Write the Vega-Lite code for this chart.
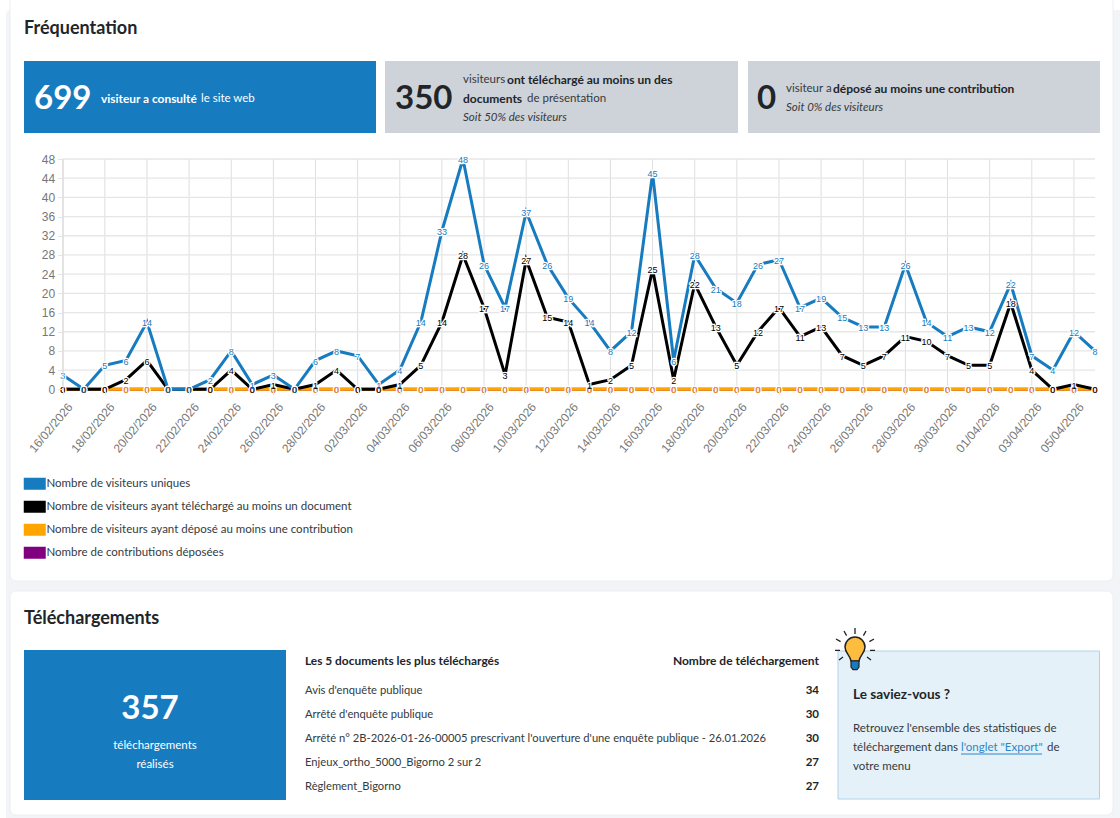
{"$schema":"https://vega.github.io/schema/vega-lite/v6.json","width":1120,"height":818,"padding":0,"autosize":{"type":"none"},"background":"#ffffff","config":{"view":{"stroke":null},"text":{"font":"Lato","dy":1}},
"datasets":{"frequentation":[
{"date":"16/02/2026","uniques":3,"telecharges":0,"deposes":0,"contributions":0},{"date":"17/02/2026","uniques":0,"telecharges":0,"deposes":0,"contributions":0},{"date":"18/02/2026","uniques":5,"telecharges":0,"deposes":0,"contributions":0},{"date":"19/02/2026","uniques":6,"telecharges":2,"deposes":0,"contributions":0},{"date":"20/02/2026","uniques":14,"telecharges":6,"deposes":0,"contributions":0},{"date":"21/02/2026","uniques":0,"telecharges":0,"deposes":0,"contributions":0},{"date":"22/02/2026","uniques":0,"telecharges":0,"deposes":0,"contributions":0},{"date":"23/02/2026","uniques":2,"telecharges":0,"deposes":0,"contributions":0},{"date":"24/02/2026","uniques":8,"telecharges":4,"deposes":0,"contributions":0},{"date":"25/02/2026","uniques":1,"telecharges":0,"deposes":0,"contributions":0},{"date":"26/02/2026","uniques":3,"telecharges":1,"deposes":0,"contributions":0},{"date":"27/02/2026","uniques":0,"telecharges":0,"deposes":0,"contributions":0},{"date":"28/02/2026","uniques":6,"telecharges":1,"deposes":0,"contributions":0},{"date":"01/03/2026","uniques":8,"telecharges":4,"deposes":0,"contributions":0},{"date":"02/03/2026","uniques":7,"telecharges":0,"deposes":0,"contributions":0},{"date":"03/03/2026","uniques":1,"telecharges":0,"deposes":0,"contributions":0},{"date":"04/03/2026","uniques":4,"telecharges":1,"deposes":0,"contributions":0},{"date":"05/03/2026","uniques":14,"telecharges":5,"deposes":0,"contributions":0},{"date":"06/03/2026","uniques":33,"telecharges":14,"deposes":0,"contributions":0},{"date":"07/03/2026","uniques":48,"telecharges":28,"deposes":0,"contributions":0},{"date":"08/03/2026","uniques":26,"telecharges":17,"deposes":0,"contributions":0},{"date":"09/03/2026","uniques":17,"telecharges":3,"deposes":0,"contributions":0},{"date":"10/03/2026","uniques":37,"telecharges":27,"deposes":0,"contributions":0},{"date":"11/03/2026","uniques":26,"telecharges":15,"deposes":0,"contributions":0},{"date":"12/03/2026","uniques":19,"telecharges":14,"deposes":0,"contributions":0},{"date":"13/03/2026","uniques":14,"telecharges":1,"deposes":0,"contributions":0},{"date":"14/03/2026","uniques":8,"telecharges":2,"deposes":0,"contributions":0},{"date":"15/03/2026","uniques":12,"telecharges":5,"deposes":0,"contributions":0},{"date":"16/03/2026","uniques":45,"telecharges":25,"deposes":0,"contributions":0},{"date":"17/03/2026","uniques":6,"telecharges":2,"deposes":0,"contributions":0},{"date":"18/03/2026","uniques":28,"telecharges":22,"deposes":0,"contributions":0},{"date":"19/03/2026","uniques":21,"telecharges":13,"deposes":0,"contributions":0},{"date":"20/03/2026","uniques":18,"telecharges":5,"deposes":0,"contributions":0},{"date":"21/03/2026","uniques":26,"telecharges":12,"deposes":0,"contributions":0},{"date":"22/03/2026","uniques":27,"telecharges":17,"deposes":0,"contributions":0},{"date":"23/03/2026","uniques":17,"telecharges":11,"deposes":0,"contributions":0},{"date":"24/03/2026","uniques":19,"telecharges":13,"deposes":0,"contributions":0},{"date":"25/03/2026","uniques":15,"telecharges":7,"deposes":0,"contributions":0},{"date":"26/03/2026","uniques":13,"telecharges":5,"deposes":0,"contributions":0},{"date":"27/03/2026","uniques":13,"telecharges":7,"deposes":0,"contributions":0},{"date":"28/03/2026","uniques":26,"telecharges":11,"deposes":0,"contributions":0},{"date":"29/03/2026","uniques":14,"telecharges":10,"deposes":0,"contributions":0},{"date":"30/03/2026","uniques":11,"telecharges":7,"deposes":0,"contributions":0},{"date":"31/03/2026","uniques":13,"telecharges":5,"deposes":0,"contributions":0},{"date":"01/04/2026","uniques":12,"telecharges":5,"deposes":0,"contributions":0},{"date":"02/04/2026","uniques":22,"telecharges":18,"deposes":0,"contributions":0},{"date":"03/04/2026","uniques":7,"telecharges":4,"deposes":0,"contributions":0},{"date":"04/04/2026","uniques":4,"telecharges":0,"deposes":0,"contributions":0},{"date":"05/04/2026","uniques":12,"telecharges":1,"deposes":0,"contributions":0},{"date":"06/04/2026","uniques":8,"telecharges":0,"deposes":0,"contributions":0}],
"graduationsDates":[{"date":"16/02/2026"},{"date":"18/02/2026"},{"date":"20/02/2026"},{"date":"22/02/2026"},{"date":"24/02/2026"},{"date":"26/02/2026"},{"date":"28/02/2026"},{"date":"02/03/2026"},{"date":"04/03/2026"},{"date":"06/03/2026"},{"date":"08/03/2026"},{"date":"10/03/2026"},{"date":"12/03/2026"},{"date":"14/03/2026"},{"date":"16/03/2026"},{"date":"18/03/2026"},{"date":"20/03/2026"},{"date":"22/03/2026"},{"date":"24/03/2026"},{"date":"26/03/2026"},{"date":"28/03/2026"},{"date":"30/03/2026"},{"date":"01/04/2026"},{"date":"03/04/2026"},{"date":"05/04/2026"}],
"graduationsValeurs":[{"valeur":0},{"valeur":4},{"valeur":8},{"valeur":12},{"valeur":16},{"valeur":20},{"valeur":24},{"valeur":28},{"valeur":32},{"valeur":36},{"valeur":40},{"valeur":44},{"valeur":48}],
"documents":[{"document":"Avis d'enquête publique","telechargements":34},{"document":"Arrêté d'enquête publique","telechargements":30},{"document":"Arrêté n° 2B-2026-01-26-00005 prescrivant l'ouverture d'une enquête publique - 26.01.2026","telechargements":30},{"document":"Enjeux_ortho_5000_Bigorno 2 sur 2","telechargements":27},{"document":"Règlement_Bigorno","telechargements":27}]},
"resolve":{"scale":{"x":"independent","y":"independent"}},
"layer":[
{"layer":[
{"data":{"values":[{"zone":"page"}]},"mark":{"type":"rect","fill":"#f3f4f7","cornerRadius":4},"encoding":{"x":{"datum":6,"axis":null,"scale":{"domain":[0,1120],"range":[0,1120],"nice":false,"zero":false}},"x2":{"datum":1124},"y":{"datum":10,"axis":null,"scale":{"domain":[0,818],"range":[0,818],"nice":false,"zero":false}},"y2":{"datum":822}}},
{"data":{"values":[{"zone":"carte"}]},"mark":{"type":"rect","fill":"#ffffff","cornerRadius":6,"stroke":"#eceef1"},"encoding":{"x":{"datum":10,"axis":null},"x2":{"datum":1113},"y":{"datum":-8,"axis":null},"y2":{"datum":581}}},
{"data":{"values":[{"zone":"carte"}]},"mark":{"type":"rect","fill":"#ffffff","cornerRadius":6,"stroke":"#eceef1"},"encoding":{"x":{"datum":10,"axis":null},"x2":{"datum":1113},"y":{"datum":591,"axis":null},"y2":{"datum":815}}},
{"data":{"values":[{"zone":"kpi"}]},"mark":{"type":"rect","fill":"#177bbf"},"encoding":{"x":{"datum":24,"axis":null},"x2":{"datum":376},"y":{"datum":61,"axis":null},"y2":{"datum":133}}},
{"data":{"values":[{"zone":"kpi"}]},"mark":{"type":"rect","fill":"#ced2d9"},"encoding":{"x":{"datum":385,"axis":null},"x2":{"datum":738},"y":{"datum":61,"axis":null},"y2":{"datum":133}}},
{"data":{"values":[{"zone":"kpi"}]},"mark":{"type":"rect","fill":"#ced2d9"},"encoding":{"x":{"datum":748,"axis":null},"x2":{"datum":1100},"y":{"datum":61,"axis":null},"y2":{"datum":133}}},
{"data":{"values":[{"zone":"kpi"}]},"mark":{"type":"rect","fill":"#177bbf"},"encoding":{"x":{"datum":24,"axis":null},"x2":{"datum":286},"y":{"datum":650,"axis":null},"y2":{"datum":800}}},
{"data":{"values":[{"zone":"astuce"}]},"mark":{"type":"rect","fill":"#e5f1f9","stroke":"#aed2ea"},"encoding":{"x":{"datum":838,"axis":null},"x2":{"datum":1099.5},"y":{"datum":651,"axis":null},"y2":{"datum":799}}},
{"data":{"values":[{"t":"Fréquentation"}]},"mark":{"type":"text","fontWeight":"bold","fontSize":18,"align":"left","color":"#212529"},"encoding":{"x":{"datum":24,"axis":null},"y":{"datum":28,"axis":null},"text":{"field":"t"}}},
{"data":{"values":[{"t":"Téléchargements"}]},"mark":{"type":"text","fontWeight":"bold","fontSize":18,"align":"left","color":"#212529"},"encoding":{"x":{"datum":24,"axis":null},"y":{"datum":618,"axis":null},"text":{"field":"t"}}},
{"data":{"values":[{"t":"699"}]},"mark":{"type":"text","fontWeight":"bold","fontSize":33,"align":"left","color":"#ffffff"},"encoding":{"x":{"datum":34,"axis":null},"y":{"datum":98,"axis":null},"text":{"field":"t"}}},
{"data":{"values":[{"t":"visiteur a consulté"}]},"mark":{"type":"text","fontWeight":"bold","fontSize":11.9,"align":"left","color":"#ffffff"},"encoding":{"x":{"datum":101,"axis":null},"y":{"datum":98,"axis":null},"text":{"field":"t"}}},
{"data":{"values":[{"t":"le site web"}]},"mark":{"type":"text","fontSize":11.5,"align":"left","color":"#ffffff"},"encoding":{"x":{"datum":201,"axis":null},"y":{"datum":98,"axis":null},"text":{"field":"t"}}},
{"data":{"values":[{"t":"350"}]},"mark":{"type":"text","fontWeight":"bold","fontSize":33,"align":"left","color":"#212529"},"encoding":{"x":{"datum":395,"axis":null},"y":{"datum":98,"axis":null},"text":{"field":"t"}}},
{"data":{"values":[{"t":"visiteurs"}]},"mark":{"type":"text","fontSize":11.5,"align":"left","color":"#343a40"},"encoding":{"x":{"datum":463,"axis":null},"y":{"datum":79,"axis":null},"text":{"field":"t"}}},
{"data":{"values":[{"t":"ont téléchargé au moins un des"}]},"mark":{"type":"text","fontWeight":"bold","fontSize":12,"align":"left","color":"#212529"},"encoding":{"x":{"datum":507,"axis":null},"y":{"datum":79,"axis":null},"text":{"field":"t"}}},
{"data":{"values":[{"t":"documents"}]},"mark":{"type":"text","fontWeight":"bold","fontSize":12,"align":"left","color":"#212529"},"encoding":{"x":{"datum":463,"axis":null},"y":{"datum":98,"axis":null},"text":{"field":"t"}}},
{"data":{"values":[{"t":"de présentation"}]},"mark":{"type":"text","fontSize":11.5,"align":"left","color":"#343a40"},"encoding":{"x":{"datum":527,"axis":null},"y":{"datum":98,"axis":null},"text":{"field":"t"}}},
{"data":{"values":[{"t":"Soit 50% des visiteurs"}]},"mark":{"type":"text","fontStyle":"italic","fontSize":11.5,"align":"left","color":"#343a40"},"encoding":{"x":{"datum":463,"axis":null},"y":{"datum":117,"axis":null},"text":{"field":"t"}}},
{"data":{"values":[{"t":"0"}]},"mark":{"type":"text","fontWeight":"bold","fontSize":33,"align":"left","color":"#212529"},"encoding":{"x":{"datum":757,"axis":null},"y":{"datum":98,"axis":null},"text":{"field":"t"}}},
{"data":{"values":[{"t":"visiteur a"}]},"mark":{"type":"text","fontSize":11.5,"align":"left","color":"#343a40"},"encoding":{"x":{"datum":786,"axis":null},"y":{"datum":88,"axis":null},"text":{"field":"t"}}},
{"data":{"values":[{"t":"déposé au moins une contribution"}]},"mark":{"type":"text","fontWeight":"bold","fontSize":12,"align":"left","color":"#212529"},"encoding":{"x":{"datum":833,"axis":null},"y":{"datum":88,"axis":null},"text":{"field":"t"}}},
{"data":{"values":[{"t":"Soit 0% des visiteurs"}]},"mark":{"type":"text","fontStyle":"italic","fontSize":11.5,"align":"left","color":"#343a40"},"encoding":{"x":{"datum":786,"axis":null},"y":{"datum":107,"axis":null},"text":{"field":"t"}}},
{"data":{"values":[{"t":"357"}]},"mark":{"type":"text","fontWeight":"bold","fontSize":33,"color":"#ffffff"},"encoding":{"x":{"datum":150,"axis":null},"y":{"datum":708,"axis":null},"text":{"field":"t"}}},
{"data":{"values":[{"t":"téléchargements"}]},"mark":{"type":"text","fontSize":11.5,"color":"#ffffff"},"encoding":{"x":{"datum":155,"axis":null},"y":{"datum":745,"axis":null},"text":{"field":"t"}}},
{"data":{"values":[{"t":"réalisés"}]},"mark":{"type":"text","fontSize":11.5,"color":"#ffffff"},"encoding":{"x":{"datum":155,"axis":null},"y":{"datum":764,"axis":null},"text":{"field":"t"}}},
{"data":{"values":[{"t":"Les 5 documents les plus téléchargés"}]},"mark":{"type":"text","fontWeight":"bold","fontSize":11.9,"align":"left","color":"#212529"},"encoding":{"x":{"datum":305,"axis":null},"y":{"datum":660,"axis":null},"text":{"field":"t"}}},
{"data":{"values":[{"t":"Nombre de téléchargement"}]},"mark":{"type":"text","fontWeight":"bold","fontSize":12,"align":"right","color":"#212529"},"encoding":{"x":{"datum":819,"axis":null},"y":{"datum":660,"axis":null},"text":{"field":"t"}}},
{"data":{"values":[{"t":"Le saviez-vous ?"}]},"mark":{"type":"text","fontWeight":"bold","fontSize":13.6,"align":"left","color":"#212529"},"encoding":{"x":{"datum":853,"axis":null},"y":{"datum":694,"axis":null},"text":{"field":"t"}}},
{"data":{"values":[{"t":"Retrouvez l'ensemble des statistiques de"}]},"mark":{"type":"text","fontSize":11.5,"align":"left","color":"#343a40"},"encoding":{"x":{"datum":853,"axis":null},"y":{"datum":728,"axis":null},"text":{"field":"t"}}},
{"data":{"values":[{"t":"téléchargement dans"}]},"mark":{"type":"text","fontSize":11.5,"align":"left","color":"#343a40"},"encoding":{"x":{"datum":853,"axis":null},"y":{"datum":747,"axis":null},"text":{"field":"t"}}},
{"data":{"values":[{"t":"l'onglet \"Export\""}]},"mark":{"type":"text","fontSize":11.5,"align":"left","color":"#2b87c8"},"encoding":{"x":{"datum":961,"axis":null},"y":{"datum":747,"axis":null},"text":{"field":"t"}}},
{"data":{"values":[{"zone":"lien"}]},"mark":{"type":"rule","color":"#2b87c8","strokeWidth":1},"encoding":{"x":{"datum":961,"axis":null},"x2":{"datum":1042},"y":{"datum":754,"axis":null}}},
{"data":{"values":[{"t":"de"}]},"mark":{"type":"text","fontSize":11.5,"align":"left","color":"#343a40"},"encoding":{"x":{"datum":1047,"axis":null},"y":{"datum":747,"axis":null},"text":{"field":"t"}}},
{"data":{"values":[{"t":"votre menu"}]},"mark":{"type":"text","fontSize":11.5,"align":"left","color":"#343a40"},"encoding":{"x":{"datum":853,"axis":null},"y":{"datum":766,"axis":null},"text":{"field":"t"}}},
{"data":{"values":[{"icone":"rayons"}]},"mark":{"type":"point","shape":"M0,-1.1V-0.8M-0.55,-0.95L-0.42,-0.72M0.55,-0.95L0.42,-0.72M-0.95,-0.55L-0.72,-0.42M0.95,-0.55L0.72,-0.42M-1,0.02H-0.75M1,0.02H0.75M-0.8,0.5L-0.6,0.35M0.8,0.5L0.6,0.35","size":1600,"stroke":"#222222","strokeWidth":1.3,"opacity":1,"filled":false},"encoding":{"x":{"datum":855,"axis":null},"y":{"datum":650,"axis":null}}},
{"data":{"values":[{"icone":"ampoule"}]},"mark":{"type":"point","shape":"M-0.2,0.55C-0.25,0.25 -0.5,0.15 -0.5,-0.15A0.5,0.5 0 1 1 0.5,-0.15C0.5,0.15 0.25,0.25 0.2,0.55Z","size":1600,"filled":true,"fill":"#fdbe3f","stroke":"#222222","strokeWidth":1.5,"opacity":1},"encoding":{"x":{"datum":855,"axis":null},"y":{"datum":650,"axis":null}}},
{"data":{"values":[{"icone":"culot"}]},"mark":{"type":"point","shape":"M-0.2,0.55H0.2V0.85L0.1,0.98H-0.1L-0.2,0.85Z","size":1600,"filled":true,"fill":"#177bbf","stroke":"#222222","strokeWidth":1.2,"opacity":1},"encoding":{"x":{"datum":855,"axis":null},"y":{"datum":650,"axis":null}}}
]},
{"data":{"name":"documents"},"layer":[
{"mark":{"type":"text","fontSize":11.2,"align":"left","color":"#343a40"},"encoding":{"x":{"datum":305,"axis":null,"scale":{"domain":[0,1120],"range":[0,1120],"nice":false,"zero":false}},"y":{"field":"document","type":"nominal","axis":null,"sort":null,"scale":{"type":"point","range":[690,786],"padding":0}},"text":{"field":"document"}}},
{"mark":{"type":"text","fontWeight":"bold","fontSize":11.5,"align":"right","color":"#212529"},"encoding":{"x":{"datum":819,"axis":null},"y":{"field":"document","type":"nominal","axis":null,"sort":null},"text":{"field":"telechargements","type":"quantitative"}}}
]},
{"layer":[
{"data":{"name":"graduationsDates"},"mark":{"type":"rule","color":"#dedede","strokeWidth":1},"encoding":{"x":{"field":"date","type":"nominal"},"y":{"datum":0},"y2":{"datum":48}}},
{"data":{"name":"graduationsValeurs"},"mark":{"type":"rule","color":"#e6e6e6","strokeWidth":1.3},"encoding":{"y":{"field":"valeur","type":"quantitative"},"x":{"datum":"16/02/2026","type":"nominal"},"x2":{"datum":"06/04/2026"}}},
{"data":{"name":"frequentation"},"transform":[{"fold":["contributions","deposes","telecharges","uniques"],"as":["serie","nombre"]}],"layer":[
{"mark":{"type":"point","filled":true,"size":0},"encoding":{"x":{"field":"date","type":"nominal"},"y":{"field":"nombre","type":"quantitative"},"color":{"field":"serie","type":"nominal",
"legend":{"orient":"none","legendX":29,"legendY":478,"title":null,"columns":1,"symbolType":"M-11,-6H11V6H-11Z","symbolSize":4,"symbolStrokeWidth":0,"symbolOpacity":1,"labelFont":"Lato","labelFontSize":11.5,"labelColor":"#343a40","rowPadding":10,"labelOffset":6,"labelLimit":500,"labelExpr":"{'uniques':'Nombre de visiteurs uniques','telecharges':'Nombre de visiteurs ayant téléchargé au moins un document','deposes':'Nombre de visiteurs ayant déposé au moins une contribution','contributions':'Nombre de contributions déposées'}[datum.label]"}}}},
{"mark":{"type":"line","strokeWidth":3,"strokeJoin":"miter","interpolate":"linear"},"encoding":{
"x":{"field":"date","type":"nominal","title":null,"sort":null,"scale":{"type":"point","padding":0,"range":[62.7,1095],"domain":["16/02/2026","17/02/2026","18/02/2026","19/02/2026","20/02/2026","21/02/2026","22/02/2026","23/02/2026","24/02/2026","25/02/2026","26/02/2026","27/02/2026","28/02/2026","01/03/2026","02/03/2026","03/03/2026","04/03/2026","05/03/2026","06/03/2026","07/03/2026","08/03/2026","09/03/2026","10/03/2026","11/03/2026","12/03/2026","13/03/2026","14/03/2026","15/03/2026","16/03/2026","17/03/2026","18/03/2026","19/03/2026","20/03/2026","21/03/2026","22/03/2026","23/03/2026","24/03/2026","25/03/2026","26/03/2026","27/03/2026","28/03/2026","29/03/2026","30/03/2026","31/03/2026","01/04/2026","02/04/2026","03/04/2026","04/04/2026","05/04/2026","06/04/2026"]},
"axis":{"zindex":1,"offset":-428.7,"orient":"bottom","values":["16/02/2026","18/02/2026","20/02/2026","22/02/2026","24/02/2026","26/02/2026","28/02/2026","02/03/2026","04/03/2026","06/03/2026","08/03/2026","10/03/2026","12/03/2026","14/03/2026","16/03/2026","18/03/2026","20/03/2026","22/03/2026","24/03/2026","26/03/2026","28/03/2026","30/03/2026","01/04/2026","03/04/2026","05/04/2026"],"labelAngle":-50,"labelAlign":"right","labelBaseline":"middle","labelFont":"Liberation Sans","labelFontSize":12,"labelColor":"#777777","labelPadding":10,"labelOffset":7,"labelOverlap":false,"labelFlush":false,"domain":false,"tickColor":"#e4e4e4","tickSize":5,"grid":false}},
"y":{"field":"nombre","type":"quantitative","title":null,"scale":{"domain":[0,48],"range":[389.3,159],"nice":false,"zero":false},
"axis":{"zindex":1,"offset":-62.7,"orient":"left","values":[0,4,8,12,16,20,24,28,32,36,40,44,48],"labelFont":"Liberation Sans","labelFontSize":12,"labelColor":"#777777","labelPadding":3,"domain":true,"domainColor":"#dddddd","tickColor":"#e4e4e4","tickSize":5,"grid":false}},
"color":{"field":"serie","type":"nominal","legend":null,"scale":{"domain":["uniques","telecharges","deposes","contributions"],"range":["#177bbf","#000000","#ffa500","#800080"]}}}},
{"mark":{"type":"text","font":"Liberation Sans","fontSize":9,"stroke":"#ffffff","strokeWidth":2.5,"fill":"#ffffff"},"encoding":{"x":{"field":"date","type":"nominal"},"y":{"field":"nombre","type":"quantitative"},"text":{"field":"nombre","type":"quantitative"}}},
{"mark":{"type":"text","font":"Liberation Sans","fontSize":9},"encoding":{"x":{"field":"date","type":"nominal"},"y":{"field":"nombre","type":"quantitative"},"text":{"field":"nombre","type":"quantitative"},"color":{"field":"serie","type":"nominal","legend":null}}}
]}
]}
]}
